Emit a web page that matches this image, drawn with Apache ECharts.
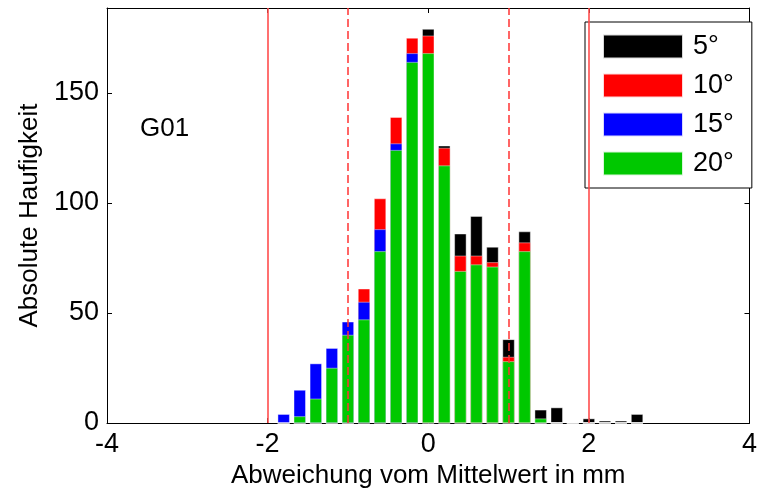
<!DOCTYPE html>
<html>
<head>
<meta charset="utf-8">
<script src="https://cdn.jsdelivr.net/npm/echarts@6/dist/echarts.min.js"></script>
<style>
  html, body { margin: 0; padding: 0; background: #fff; }
  #chart { width: 760px; height: 499px; }
</style>
</head>
<body>
<div id="chart"></div>
<script>
// bin centres (mm)
const bins = [-1.8, -1.6, -1.4, -1.2, -1.0, -0.8, -0.6, -0.4, -0.2, 0, 0.2, 0.4,
  0.6, 0.8, 1.0, 1.2, 1.4, 1.6, 1.8, 2.0, 2.2, 2.4, 2.6];

// counts per angle, drawn overlaid (5° at the back, 20° in front)
const deg5  = [0, 0, 0, 0, 0, 0, 0, 0, 0, 179, 126, 86, 94, 80, 38, 87, 6, 7, 0, 2, 1, 1, 4];
const deg10 = [0, 0, 0, 0, 0, 61, 102, 139, 175, 176, 125, 76, 76, 73, 30, 82, 0, 0, 0, 0, 0, 0, 0];
const deg15 = [4, 15, 27, 34, 46, 55, 88, 127, 168, 0, 0, 0, 0, 0, 0, 0, 0, 0, 0, 0, 0, 0, 0];
const deg20 = [0, 3, 11, 25, 40, 47, 78, 124, 164, 168, 117, 69, 72, 71, 28, 78, 2, 0, 0, 0, 0, 0, 0];

const names = ['5°', '10°', '15°', '20°'];
const colors = ['#000000', '#ff0000', '#0000ff', '#00c800'];
const xTicks = [-4, -2, 0, 2, 4];
const yTicks = [0, 50, 100, 150];
const solidLimits = [-2, 2];
const dashedLimits = [-1, 1];

const font = 'Liberation Sans, Arial, sans-serif';
const chart = echarts.init(document.getElementById('chart'));

function pairs(vals) {
  return bins.map((b, i) => [b, vals[i]]);
}

function tickStyle() {
  return { show: true, inside: true, length: 5, lineStyle: { color: '#000' } };
}

const series = [deg5, deg10, deg15, deg20].map((vals, i) => ({
  name: names[i],
  type: 'bar',
  data: pairs(vals),
  barWidth: 12,
  barGap: '-100%',
  itemStyle: { color: colors[i], borderColor: 'rgba(255,255,255,0.85)', borderWidth: 0.5 },
  animation: false
}));

// limit lines on top of the bars
series[3].markLine = {
  symbol: 'none',
  label: { show: false },
  animation: false,
  lineStyle: { color: '#ff3333', width: 1.5, type: [8, 4] },
  data: dashedLimits.map(v => ({ xAxis: v }))
    .concat(solidLimits.map(v => ({ xAxis: v, lineStyle: { type: 'solid', width: 1.6, color: '#ff4d4d' } })))
};

chart.setOption({
  backgroundColor: '#fff',
  animation: false,
  grid: { left: 107, right: 5, top: 8, bottom: 76 },
  legend: {
    orient: 'vertical',
    left: 585,
    top: 22,
    padding: [11, 18, 11, 17],
    itemWidth: 80,
    itemHeight: 24,
    itemGap: 12,
    icon: 'rect',
    borderColor: '#000',
    borderWidth: 1,
    backgroundColor: '#fff',
    selectedMode: false,
    textStyle: { fontFamily: font, fontSize: 27, color: '#000', padding: [0, 0, 0, 5] },
    data: names
  },
  graphic: [{
    type: 'text',
    left: 140,
    top: 116,
    style: { text: 'G01', font: '26px ' + font, fill: '#000' }
  }],
  xAxis: [{
    type: 'value',
    min: xTicks[0],
    max: xTicks[xTicks.length - 1],
    interval: 2,
    name: 'Abweichung vom Mittelwert in mm',
    nameLocation: 'middle',
    nameGap: 34,
    nameTextStyle: { fontFamily: font, fontSize: 26, color: '#000' },
    axisLine: { show: true, onZero: false, lineStyle: { color: '#000' } },
    axisTick: tickStyle(),
    axisLabel: { fontFamily: font, fontSize: 27, color: '#000', margin: 8 },
    splitLine: { show: false }
  }, {
    type: 'value',
    position: 'top',
    min: xTicks[0],
    max: xTicks[xTicks.length - 1],
    interval: 2,
    axisLine: { show: true, onZero: false, lineStyle: { color: '#000' } },
    axisTick: tickStyle(),
    axisLabel: { show: false },
    splitLine: { show: false }
  }],
  yAxis: [{
    type: 'value',
    min: yTicks[0],
    max: 188.6,
    interval: 50,
    name: 'Absolute Haufigkeit',
    nameLocation: 'middle',
    nameGap: 60,
    nameTextStyle: { fontFamily: font, fontSize: 26, color: '#000' },
    axisLine: { show: true, onZero: false, lineStyle: { color: '#000' } },
    axisTick: tickStyle(),
    axisLabel: { fontFamily: font, fontSize: 27, color: '#000', margin: 8, showMaxLabel: false },
    splitLine: { show: false }
  }, {
    type: 'value',
    position: 'right',
    min: yTicks[0],
    max: 188.6,
    interval: 50,
    axisLine: { show: true, onZero: false, lineStyle: { color: '#000' } },
    axisTick: tickStyle(),
    axisLabel: { show: false },
    splitLine: { show: false }
  }],
  series: series
});
</script>
</body>
</html>
